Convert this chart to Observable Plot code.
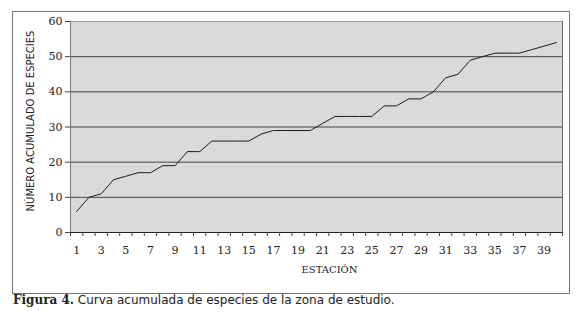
<!DOCTYPE html>
<html><head><meta charset="utf-8">
<script src="https://cdn.jsdelivr.net/npm/d3@7"></script>
<script src="https://cdn.jsdelivr.net/npm/@observablehq/plot@0.6"></script>
<style>
body{margin:0;background:#fff;}
#wrap{position:relative;width:580px;height:320px;overflow:hidden;}
#chart{position:absolute;left:0;top:0;}
#frame{position:absolute;left:12px;top:11px;width:556px;height:281px;border:1px solid #777;pointer-events:none;}
#cap{position:absolute;left:13px;top:293px;font-family:"DejaVu Sans";font-size:12px;color:#222;white-space:nowrap;}
#cap b{font-family:"DejaVu Serif";font-weight:bold;}
</style></head><body>
<div id="wrap"><div id="chart"></div><div id="frame"></div>
<div id="cap"><b>Figura 4.</b> Curva acumulada de especies de la zona de estudio.</div></div>
<script>
const stations = [1,2,3,4,5,6,7,8,9,10,11,12,13,14,15,16,17,18,19,20,21,22,23,24,25,26,27,28,29,30,31,32,33,34,35,36,37,38,39,40];
const species = [6,10,11,15,16,17,17,19,19,23,23,26,26,26,26,28,29,29,29,29,31,33,33,33,33,36,36,38,38,40,44,45,49,50,51,51,51,52,53,54];
const yTicks = [0,10,20,30,40,50,60];
const xTickLabels = [1,3,5,7,9,11,13,15,17,19,21,23,25,27,29,31,33,35,37,39];
const gridValues = [10,20,30,40,50];
const xTitle = "ESTACIÓN";
const yTitle = "NÚMERO ACUMULADO DE ESPECIES";

const data = stations.map((s, i) => ({station: s, species: species[i]}));
const boundaries = stations.map(s => s - 0.5).concat([stations[stations.length - 1] + 0.5]);
const xDomain = [boundaries[0], boundaries[boundaries.length - 1]];

const chart = Plot.plot({
  width: 580, height: 294,
  marginLeft: 70, marginRight: 18, marginTop: 21, marginBottom: 62,
  x: {domain: xDomain},
  y: {domain: [0, 60]},
  style: {background: "transparent", color: "#222"},
  marks: [
    Plot.frame({fill: "#dadada", stroke: null}),
    Plot.ruleY(gridValues, {stroke: "#444", strokeWidth: 1}),
    Plot.ruleY([60], {stroke: "#999", strokeWidth: 1}),
    Plot.ruleX([xDomain[1]], {stroke: "#666", strokeWidth: 1}),
    Plot.ruleX([xDomain[0]], {stroke: "#777", strokeWidth: 1}),
    Plot.ruleY([0], {stroke: "#222", strokeWidth: 1}),
    Plot.axisY(yTicks, {tickSize: 5, tickPadding: 3, fontFamily: "DejaVu Serif", fontSize: 11, label: null, stroke: "#444"}),
    Plot.axisX(boundaries, {tickSize: 4, tickFormat: () => "", label: null, stroke: "#444"}),
    Plot.axisX(xTickLabels, {tickSize: 0, tickPadding: 14, fontFamily: "DejaVu Serif", fontSize: 11, label: null}),
    Plot.text([xTitle], {frameAnchor: "bottom", dx: 13, dy: 40, fontFamily: "DejaVu Serif", fontSize: 10, fill: "#222"}),
    Plot.text([yTitle], {frameAnchor: "left", textAnchor: "middle", dx: -40, dy: -6, rotate: -90, fontFamily: "DejaVu Sans", fontSize: 10, fill: "#222"}),
    Plot.line(data, {x: "station", y: "species", stroke: "#1a1a1a", strokeWidth: 1})
  ]
});
document.getElementById("chart").appendChild(chart);
</script>
</body></html>
